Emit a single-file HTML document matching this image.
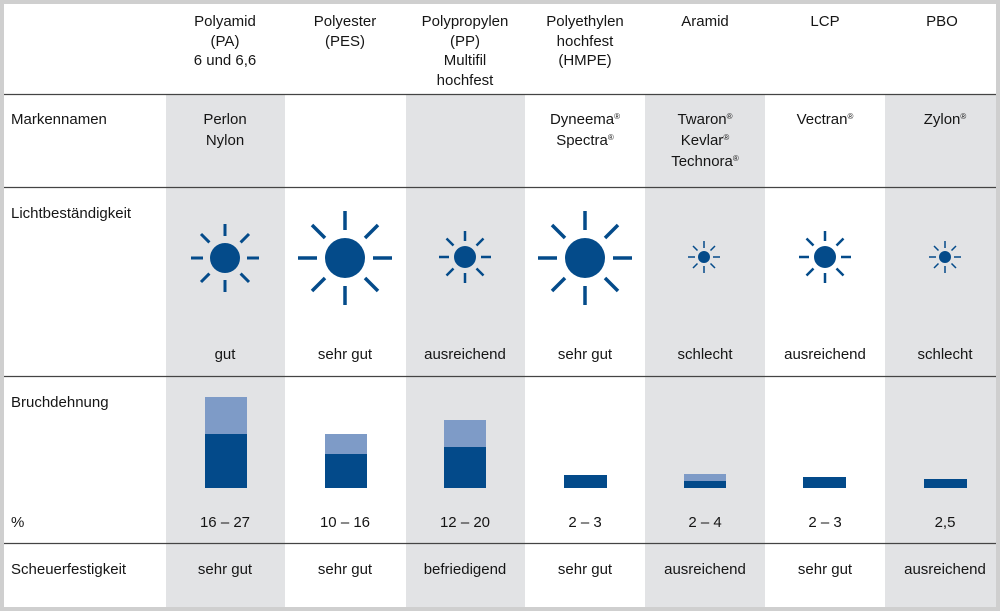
<!DOCTYPE html>
<html><head><meta charset="utf-8"><style>
html,body{margin:0;padding:0;background:#cfcfcf;}
svg{display:block;}
text{font-family:"Liberation Sans","DejaVu Sans",sans-serif;font-size:15px;fill:#151515;}
.c{text-anchor:middle;}
.r{font-size:8px;}
</style></head><body>
<svg width="1000" height="611" viewBox="0 0 1000 611" xmlns="http://www.w3.org/2000/svg">
<rect x="0" y="0" width="1000" height="611" fill="#cfcfcf"/>
<rect x="4" y="4" width="992" height="603" fill="#ffffff"/>
<g fill="#e2e3e5">
<rect x="166" y="95" width="119" height="512"/>
<rect x="406" y="95" width="119" height="512"/>
<rect x="645" y="95" width="120" height="512"/>
<rect x="885" y="95" width="111" height="512"/>
</g>
<g stroke="#444" stroke-width="1.3">
<line x1="4" y1="94.5" x2="996" y2="94.5"/>
<line x1="4" y1="187.5" x2="996" y2="187.5"/>
<line x1="4" y1="376.5" x2="996" y2="376.5"/>
<line x1="4" y1="543.5" x2="996" y2="543.5"/>
</g>
<!-- headers -->
<text class="c" x="225" y="26">Polyamid</text><text class="c" x="225" y="46">(PA)</text><text class="c" x="225" y="65">6 und 6,6</text>
<text class="c" x="345" y="26">Polyester</text><text class="c" x="345" y="46">(PES)</text>
<text class="c" x="465" y="26">Polypropylen</text><text class="c" x="465" y="46">(PP)</text><text class="c" x="465" y="65">Multifil</text><text class="c" x="465" y="85">hochfest</text>
<text class="c" x="585" y="26">Polyethylen</text><text class="c" x="585" y="46">hochfest</text><text class="c" x="585" y="65">(HMPE)</text>
<text class="c" x="705" y="26">Aramid</text>
<text class="c" x="825" y="26">LCP</text>
<text class="c" x="942" y="26">PBO</text>
<!-- Markennamen -->
<text x="11" y="124">Markennamen</text>
<text class="c" x="225" y="124">Perlon</text><text class="c" x="225" y="145">Nylon</text>
<text class="c" x="585" y="124">Dyneema<tspan class="r" dy="-5">®</tspan></text><text class="c" x="585" y="145">Spectra<tspan class="r" dy="-5">®</tspan></text>
<text class="c" x="705" y="124">Twaron<tspan class="r" dy="-5">®</tspan></text><text class="c" x="705" y="145">Kevlar<tspan class="r" dy="-5">®</tspan></text><text class="c" x="705" y="166">Technora<tspan class="r" dy="-5">®</tspan></text>
<text class="c" x="825" y="124">Vectran<tspan class="r" dy="-5">®</tspan></text>
<text class="c" x="945" y="124">Zylon<tspan class="r" dy="-5">®</tspan></text>
<!-- Licht -->
<text x="11" y="218">Lichtbeständigkeit</text>
<g fill="#044b8a" stroke="#044b8a" stroke-linecap="butt">
<g transform="translate(225,258)" stroke-width="3"><circle r="15" stroke="none"/>
<path d="M0,-22V-34M0,22V34M-22,0H-34M22,0H34M15.6,-15.6L24,-24M-15.6,-15.6L-24,-24M15.6,15.6L24,24M-15.6,15.6L-24,24"/></g>
<g transform="translate(345,258)" stroke-width="3.5"><circle r="20" stroke="none"/>
<path d="M0,-28V-47M0,28V47M-28,0H-47M28,0H47M20,-20L33,-33M-20,-20L-33,-33M20,20L33,33M-20,20L-33,33"/></g>
<g transform="translate(465,257)" stroke-width="2.5"><circle r="11" stroke="none"/>
<path d="M0,-16V-26M0,16V26M-16,0H-26M16,0H26M11.5,-11.5L18.5,-18.5M-11.5,-11.5L-18.5,-18.5M11.5,11.5L18.5,18.5M-11.5,11.5L-18.5,18.5"/></g>
<g transform="translate(585,258)" stroke-width="3.5"><circle r="20" stroke="none"/>
<path d="M0,-28V-47M0,28V47M-28,0H-47M28,0H47M20,-20L33,-33M-20,-20L-33,-33M20,20L33,33M-20,20L-33,33"/></g>
<g transform="translate(704,257)" stroke-width="1.5"><circle r="6" stroke="none"/>
<path d="M0,-9V-16M0,9V16M-9,0H-16M9,0H16M6.5,-6.5L11,-11M-6.5,-6.5L-11,-11M6.5,6.5L11,11M-6.5,6.5L-11,11"/></g>
<g transform="translate(825,257)" stroke-width="2.5"><circle r="11" stroke="none"/>
<path d="M0,-16V-26M0,16V26M-16,0H-26M16,0H26M11.5,-11.5L18.5,-18.5M-11.5,-11.5L-18.5,-18.5M11.5,11.5L18.5,18.5M-11.5,11.5L-18.5,18.5"/></g>
<g transform="translate(945,257)" stroke-width="1.5"><circle r="6" stroke="none"/>
<path d="M0,-9V-16M0,9V16M-9,0H-16M9,0H16M6.5,-6.5L11,-11M-6.5,-6.5L-11,-11M6.5,6.5L11,11M-6.5,6.5L-11,11"/></g>
</g>
<text class="c" x="225" y="359">gut</text>
<text class="c" x="345" y="359">sehr gut</text>
<text class="c" x="465" y="359">ausreichend</text>
<text class="c" x="585" y="359">sehr gut</text>
<text class="c" x="705" y="359">schlecht</text>
<text class="c" x="825" y="359">ausreichend</text>
<text class="c" x="945" y="359">schlecht</text>
<!-- Bruch -->
<text x="11" y="407">Bruchdehnung</text>
<g fill="#7e9bc7">
<rect x="205" y="397" width="42" height="37"/>
<rect x="325" y="434" width="42" height="20"/>
<rect x="444" y="420" width="42" height="27"/>
<rect x="684" y="474" width="42" height="7"/>
</g>
<g fill="#034a8a">
<rect x="205" y="434" width="42" height="54"/>
<rect x="325" y="454" width="42" height="34"/>
<rect x="444" y="447" width="42" height="41"/>
<rect x="564" y="475" width="43" height="13"/>
<rect x="684" y="481" width="42" height="7"/>
<rect x="803" y="477" width="43" height="11"/>
<rect x="924" y="479" width="43" height="9"/>
</g>
<text x="11" y="527">%</text>
<text class="c" x="225" y="527">16 – 27</text>
<text class="c" x="345" y="527">10 – 16</text>
<text class="c" x="465" y="527">12 – 20</text>
<text class="c" x="585" y="527">2 – 3</text>
<text class="c" x="705" y="527">2 – 4</text>
<text class="c" x="825" y="527">2 – 3</text>
<text class="c" x="945" y="527">2,5</text>
<!-- Scheuer -->
<text x="11" y="574">Scheuerfestigkeit</text>
<text class="c" x="225" y="574">sehr gut</text>
<text class="c" x="345" y="574">sehr gut</text>
<text class="c" x="465" y="574">befriedigend</text>
<text class="c" x="585" y="574">sehr gut</text>
<text class="c" x="705" y="574">ausreichend</text>
<text class="c" x="825" y="574">sehr gut</text>
<text class="c" x="945" y="574">ausreichend</text>
</svg>
</body></html>
